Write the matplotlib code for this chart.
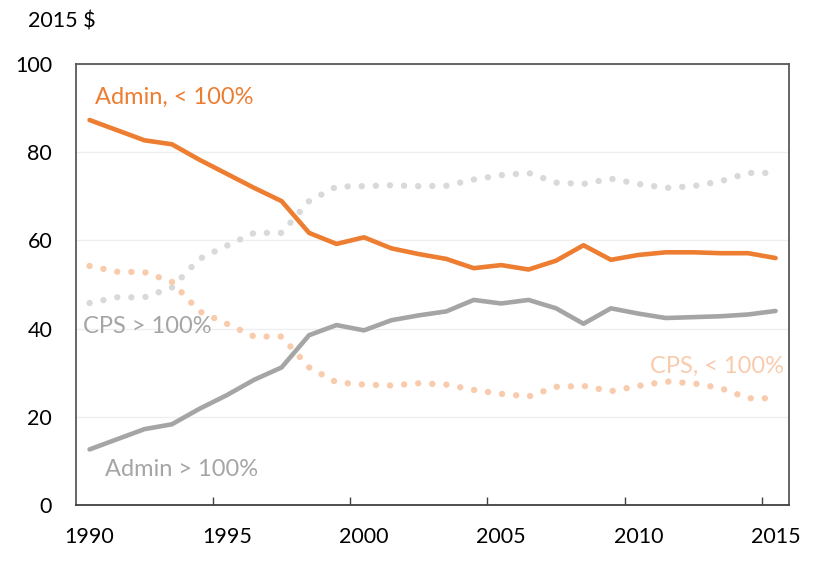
import matplotlib
matplotlib.use("Agg")
import matplotlib.pyplot as plt
import numpy as np

plt.rcParams['font.family'] = ['Lato', 'DejaVu Sans']

years = np.arange(1990, 2016)
admin_below = [87.3, 85.0, 82.7, 81.8, 78.3, 75.1, 71.9, 68.9, 61.7, 59.2, 60.7, 58.2, 56.9,
               55.8, 53.7, 54.4, 53.4, 55.4, 58.9, 55.6, 56.7, 57.3, 57.3, 57.1, 57.1, 56.0]
admin_above = [12.6, 14.9, 17.2, 18.3, 21.8, 24.9, 28.4, 31.2, 38.5, 40.8, 39.6, 41.9, 43.0,
               43.9, 46.5, 45.7, 46.5, 44.6, 41.1, 44.6, 43.4, 42.4, 42.6, 42.8, 43.2, 44.0]
cps_above = [45.8, 47.1, 47.1, 49.3, 55.8, 58.8, 61.7, 61.7, 68.9, 72.2, 72.3, 72.5, 72.3,
             72.4, 73.8, 74.8, 75.3, 73.1, 72.8, 74.0, 72.8, 71.9, 72.3, 73.4, 75.3, 75.3]
cps_below = [54.2, 52.9, 52.8, 50.6, 43.9, 41.1, 38.2, 38.2, 31.2, 27.8, 27.3, 27.1, 27.6,
             27.3, 26.1, 25.2, 24.6, 26.8, 27.0, 25.8, 27.0, 28.0, 27.6, 26.5, 24.2, 24.2]
label_years = [1990, 1995, 2000, 2005, 2010, 2015]

orange = '#ED7D31'
gray = '#A5A5A5'
lgray = '#D9D9D9'
lorange = '#F8CBAD'

fig = plt.figure(figsize=(8.27, 5.71), dpi=100)
ax = fig.add_axes([0.0917, 0.1156, 0.8627, 0.7723])

x = np.arange(len(years))
dots = (0, (0.01, 2.2))
ax.plot(x, cps_above, color=lgray, lw=4.6, linestyle=dots, dash_capstyle='round', zorder=2)
ax.plot(x, cps_below, color=lorange, lw=4.6, linestyle=dots, dash_capstyle='round', zorder=2)
ax.plot(x, admin_above, color=gray, lw=3.3, solid_capstyle='round', solid_joinstyle='round', zorder=3)
ax.plot(x, admin_below, color=orange, lw=3.3, solid_capstyle='round', solid_joinstyle='round', zorder=3)

ax.set_xlim(-0.5, 25.5)
ax.set_ylim(0, 100)
ax.set_yticks([0, 20, 40, 60, 80, 100])
ax.yaxis.grid(True, color='#EFEFEF', lw=1)
ax.set_axisbelow(True)

lx = [list(years).index(y) for y in label_years]
ax.set_xticks(lx)
ax.set_xticklabels([str(y) for y in label_years])
ax.set_xticks([4.5, 9.5, 14.5, 19.5, 24.5], minor=True)
ax.tick_params(axis='x', which='major', length=0, pad=16, labelsize=15.5)
ax.tick_params(axis='x', which='minor', length=6, width=1, direction='in', color='#404040')
ax.tick_params(axis='y', length=0, pad=17, labelsize=15.5)

for s in ax.spines.values():
    s.set_color('#595959')
    s.set_linewidth(1.3)
ax.spines['bottom'].set_color('#404040')

ax.text(0.2, 92.5, 'Admin, < 100%', color=orange, fontsize=17, va='center', ha='left')
ax.text(-0.25, 40.5, 'CPS > 100%', color=gray, fontsize=17, va='center', ha='left')
ax.text(0.55, 8, 'Admin > 100%', color=gray, fontsize=17, va='center', ha='left')
ax.text(25.3, 31.5, 'CPS, < 100%', color=lorange, fontsize=17, va='center', ha='right')
fig.text(0.034, 0.962, '2015 $', fontsize=15.5, va='center', ha='left')

fig.savefig('out.png', dpi=100)
